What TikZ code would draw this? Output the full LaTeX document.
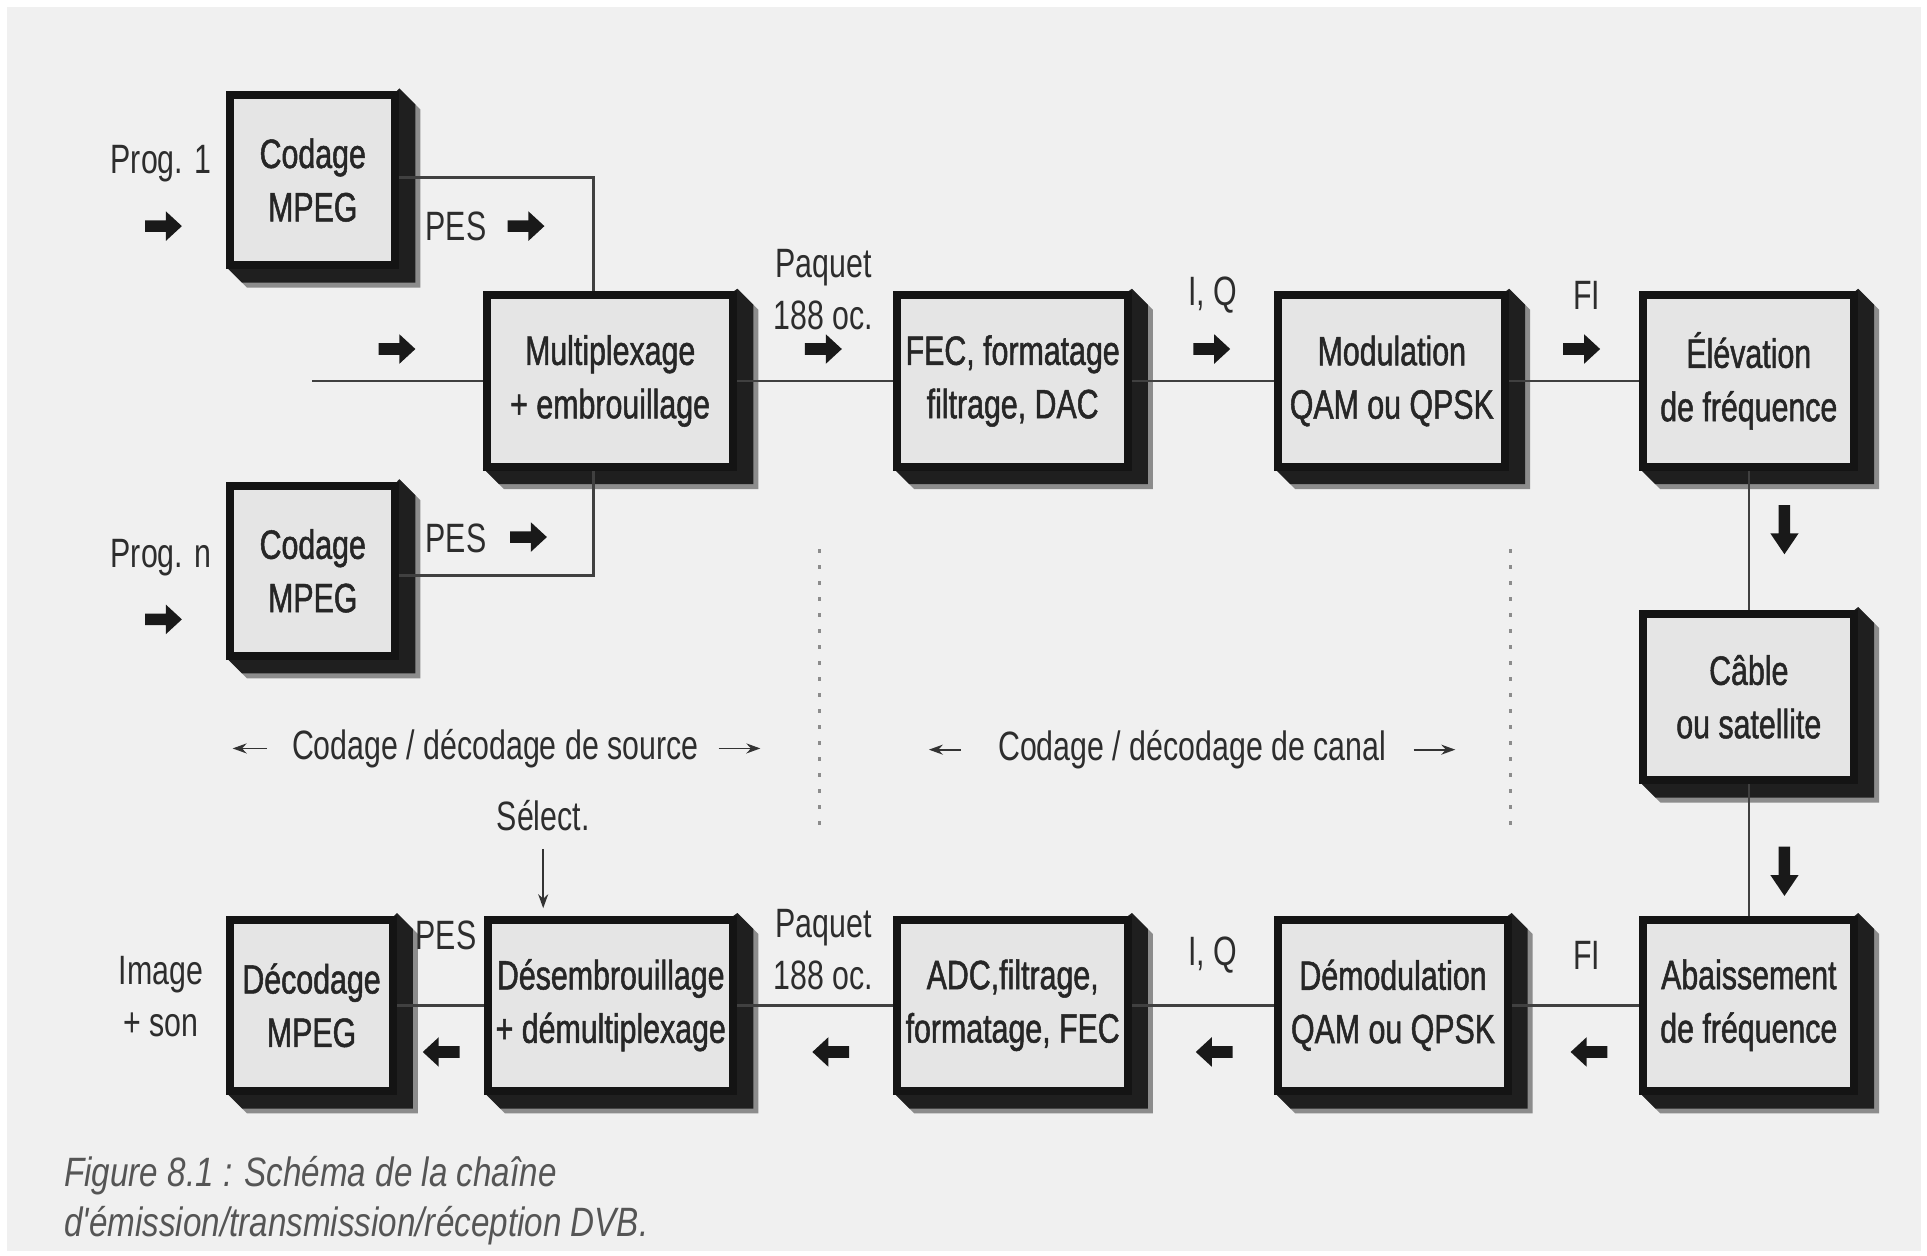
\documentclass[tikz,border=0pt]{standalone}
\usepackage{fontspec}
\setmainfont{Liberation Sans}[FakeStretch=0.74]
\newfontfamily\boxfont{Liberation Sans}[FakeStretch=0.74,FakeBold=1.2]
\newfontfamily\capfont{Liberation Sans}[FakeStretch=0.81]
\usetikzlibrary{calc,arrows.meta}
\definecolor{bgc}{RGB}{240,240,240}
\definecolor{boxc}{RGB}{229,229,229}
\definecolor{txtc}{RGB}{45,45,45}
\definecolor{capc}{RGB}{85,85,85}
\newcommand\dpx{0.6145pt}
\newcommand\blk[6]{%
  \fill[black!45] (#4,#3) -- (#4+17,#3+17) -- (#4+17,#5+17) -- (#2+17,#5+17) -- (#2,#5) -- cycle;
  \fill[black!88] (#4,#3) -- (#4+13,#3+13) -- (#4+13,#5+13) -- (#2+13,#5+13) -- (#2,#5) -- cycle;
  \node[blkbox, minimum width={(#4-#2)*0.6145pt-4pt}, minimum height={(#5-#3)*0.6145pt-4pt}] (#1) at ({(#2+#4)/2},{(#3+#5)/2+2}) {#6};%
}
\tikzset{
  blkbox/.style={draw=black!92, line width=4pt, fill=boxc, align=center, inner sep=0pt,
    font=\boxfont\fontsize{20.5pt}{26.7pt}\selectfont, text=black!85},
  lab/.style={inner sep=0pt, align=center, font=\fontsize{20.5pt}{26pt}\selectfont, text=txtc},
  conn/.style={line width=1.3pt, draw=black!75},
  thinarr/.style={line width=0.9pt, draw=black!80, -{Stealth[length=7pt,width=5pt]}},
  dotsep/.style={line width=1.6pt, draw=black!45, dash pattern=on 1.6pt off 6.4pt},
  bR/.pic={\fill[black!90] (-15,-4.7) -- (2,-4.7) -- (2,-12) -- (15,0) -- (2,12) -- (2,4.7) -- (-15,4.7) -- cycle;},
  bL/.pic={\fill[black!90] (15,-4.7) -- (-2,-4.7) -- (-2,-12) -- (-15,0) -- (-2,12) -- (-2,4.7) -- (15,4.7) -- cycle;},
  bD/.pic={\fill[black!90] (-4.7,-20) -- (-4.7,3) -- (-11.5,3) -- (0,20) -- (11.5,3) -- (4.7,3) -- (4.7,-20) -- cycle;},
}
\begin{document}
\begin{tikzpicture}[x=\dpx, y=-\dpx]
\useasboundingbox (0,0) rectangle (1568,1022);
\fill[white] (0,0) rectangle (1568,1022);
\fill[bgc] (6,6) rectangle (1563,1018);

% boxes
\blk{cod1}{184}{72}{325}{217}{Codage\\MPEG}
\blk{codn}{184}{390}{325}{535}{Codage\\MPEG}
\blk{mux}{393}{235}{600}{381}{Multiplexage\\+ embrouillage}
\blk{fec}{727}{235}{921}{381}{FEC, formatage\\filtrage, DAC}
\blk{mod}{1037}{235}{1228}{381}{Modulation\\QAM ou QPSK}
\blk{ele}{1334}{235}{1512}{381}{Élévation\\de fréquence}
\blk{cab}{1334}{494}{1512}{636}{Câble\\ou satellite}
\blk{aba}{1334}{743}{1512}{889}{Abaissement\\de fréquence}
\blk{dem}{1037}{743}{1230}{889}{Démodulation\\QAM ou QPSK}
\blk{adc}{727}{743}{921}{889}{ADC,filtrage,\\formatage, FEC}
\blk{des}{394}{743}{600}{889}{Désembrouillage\\+ démultiplexage}
\blk{dec}{184}{743}{323}{889}{Décodage\\MPEG}

% connectors
\coordinate (muxin) at (254,308);
\coordinate (mtop) at ($(mux.north west)!0.435!(mux.north east)$);
\coordinate (mbot) at ($(mux.south west)!0.435!(mux.south east)$);
\draw[conn] ([yshift=1.2pt]cod1.east) -| (mtop);
\draw[conn] ([yshift=-2.2pt]codn.east) -| (mbot);
\draw[conn] (mux.west -| muxin) -- (mux.west);
\draw[conn] (mux.east) -- (fec.west);
\draw[conn] (fec.east) -- (mod.west);
\draw[conn] (mod.east) -- (ele.west);
\draw[conn] (ele.south) -- (cab.north);
\draw[conn] (cab.south) -- (aba.north);
\draw[conn] (aba.west) -- (dem.east);
\draw[conn] (dem.west) -- (adc.east);
\draw[conn] (adc.west) -- (des.east);
\draw[conn] (des.west) -- (dec.east);

% block arrows
\pic at (133,184) {bR};
\pic at (428,184) {bR};
\pic at (323,284) {bR};
\pic at (133,504) {bR};
\pic at (430,437) {bR};
\pic at (670,284) {bR};
\pic at (986,284) {bR};
\pic at (1287,284) {bR};
\pic at (359,856) {bL};
\pic at (676,856) {bL};
\pic at (988,856) {bL};
\pic at (1293,856) {bL};
\pic at (1452,431) {bD};
\pic at (1452,709) {bD};

% labels
\node[lab] (p1) at (131,133) {Prog. 1};
\node[lab] (pes1) at (371,184) {PES};
\node[lab] (pn) at (131,454) {Prog. n};
\node[lab] (pesn) at (371,438) {PES};
\node[lab] (paq1) at (670,236) {Paquet\\188 oc.};
\node[lab] (iq1) at (987,240) {I, Q};
\node[lab] (fi1) at (1291,240) {FI};
\node[lab] (iq2) at (987,777) {I, Q};
\node[lab] (fi2) at (1291,777) {FI};
\node[lab] (paq2) at (670,773) {Paquet\\188 oc.};
\node[lab] (pes2) at (363,761) {PES};
\node[lab] (img) at (131,811) {Image\\+ son};
\node[lab] (sel) at (442,664) {Sélect.};
\draw[thinarr] ([yshift=-14*\dpx]sel.south) -- ([yshift=6*\dpx]sel.south |- des.north);

\node[lab] (src) at (403,609) {Codage / décodage de source};
\node[lab] (can) at (970,610) {Codage / décodage de canal};
\draw[thinarr] ([xshift=-20*\dpx]src.west) -- ([xshift=-48*\dpx]src.west);
\draw[thinarr] ([xshift=16*\dpx]src.east) -- ([xshift=50*\dpx]src.east);
\draw[thinarr] ([xshift=-30*\dpx]can.west) -- ([xshift=-56*\dpx]can.west);
\draw[thinarr] ([xshift=22*\dpx]can.east) -- ([xshift=56*\dpx]can.east);

% dotted separators
\coordinate (s1a) at (667,447); \coordinate (s1b) at (667,681);
\coordinate (s2a) at (1229,447); \coordinate (s2b) at (1229,681);
\draw[dotsep] (s1a) -- (s1b);
\draw[dotsep] (s2a) -- (s2b);

% caption
\node[anchor=west, align=left, inner sep=0pt, text=capc,
  font=\capfont\itshape\fontsize{20.5pt}{25.3pt}\selectfont] (cap) at (52,977)
  {Figure 8.1 : Schéma de la chaîne\\d'émission/transmission/réception DVB.};
\end{tikzpicture}
\end{document}
